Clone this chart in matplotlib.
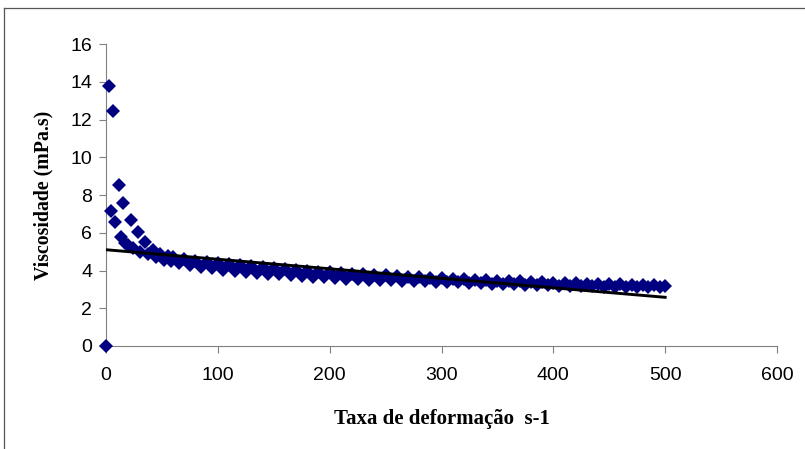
import matplotlib
matplotlib.use("Agg")
from matplotlib import pyplot as plt
from matplotlib.lines import Line2D

# first point and the two sweeps
x_zero = [0]
y_zero = [0]

x_up = [2.7, 6.3, 11.9, 15.5, 22.4, 28.9, 35, 42, 48, 55,
        60, 70, 80, 90, 100, 110, 120, 130, 140, 150,
        160, 170, 180, 190, 200, 210, 220, 230, 240, 250,
        260, 270, 280, 290, 300, 310, 320, 330, 340, 350,
        360, 370, 380, 390, 400, 410, 420, 430, 440, 450,
        460, 470, 480, 490, 500]
y_up = [13.8, 12.45, 8.55, 7.56, 6.68, 6.02, 5.5, 5.1, 4.9, 4.78,
        4.70, 4.60, 4.50, 4.43, 4.38, 4.33, 4.28, 4.22, 4.16, 4.11,
        4.06, 4.02, 3.98, 3.94, 3.90, 3.86, 3.83, 3.80, 3.77, 3.74,
        3.71, 3.68, 3.65, 3.62, 3.59, 3.56, 3.53, 3.50, 3.48, 3.46,
        3.44, 3.42, 3.40, 3.38, 3.36, 3.34, 3.33, 3.31, 3.30, 3.28,
        3.26, 3.25, 3.23, 3.21, 3.18]

x_down = [4.2, 7.8, 13.1, 17, 20, 24.4, 30.4, 37.6, 45, 52, 58,
          65, 75, 85, 95, 105, 115, 125, 135, 145, 155,
          165, 175, 185, 195, 205, 215, 225, 235, 245, 255,
          265, 275, 285, 295, 305, 315, 325, 335, 345, 355,
          365, 375, 385, 395, 405, 415, 425, 435, 445, 455,
          465, 475, 485, 495]
y_down = [7.15, 6.55, 5.8, 5.45, 5.35, 5.17, 5.0, 4.85, 4.7, 4.55, 4.48,
          4.40, 4.30, 4.20, 4.12, 4.05, 3.98, 3.92, 3.87, 3.83, 3.79,
          3.75, 3.71, 3.67, 3.63, 3.59, 3.56, 3.54, 3.52, 3.50, 3.48,
          3.47, 3.45, 3.43, 3.41, 3.39, 3.37, 3.35, 3.33, 3.31, 3.29,
          3.27, 3.25, 3.23, 3.21, 3.19, 3.18, 3.17, 3.16, 3.15, 3.14,
          3.13, 3.13, 3.12, 3.12]

# linear trend line ends
trend_x = [0, 500]
trend_y = [5.1, 2.58]

navy = "#000080"
grey = "#808080"

fig = plt.figure(figsize=(8.05, 4.49), dpi=100)
ax = fig.add_axes([0.1317, 0.2294, 0.8335, 0.6726])

for xs, ys in [(x_zero, y_zero), (x_up, y_up), (x_down, y_down)]:
    ax.plot(xs, ys, "D", color=navy, markersize=7.2, markeredgewidth=0,
            clip_on=False, zorder=3)
ax.plot(trend_x, trend_y, "-", color="black", lw=2.1, zorder=4)

ax.set_xlim(0, 600)
ax.set_ylim(0, 16)
ax.set_xticks(range(0, 601, 100))
ax.set_yticks(range(0, 17, 2))
for s in ["top", "right"]:
    ax.spines[s].set_visible(False)
for s in ["left", "bottom"]:
    ax.spines[s].set_color(grey)
ax.tick_params(colors=grey, labelcolor="black", labelsize=14, length=5,
               direction="out")
ax.tick_params(axis="x", pad=10)
ax.tick_params(axis="y", pad=5)
for lab in ax.get_xticklabels() + ax.get_yticklabels():
    lab.set_family("Liberation Sans")

ax.set_xlabel("Taxa de deformação  s-1", family="Liberation Serif",
              fontweight="bold", fontsize=15, labelpad=18)
ax.set_ylabel("Viscosidade (mPa.s)", family="Liberation Serif",
              fontweight="bold", fontsize=14.3, labelpad=12)

# outer frame (cut off at right and bottom in the original)
fig.add_artist(Line2D([0.005, 0.005], [0, 0.982], color="#555555", lw=0.9))
fig.add_artist(Line2D([0.005, 1], [0.982, 0.982], color="#555555", lw=0.9))

fig.savefig("out.png", dpi=100)
